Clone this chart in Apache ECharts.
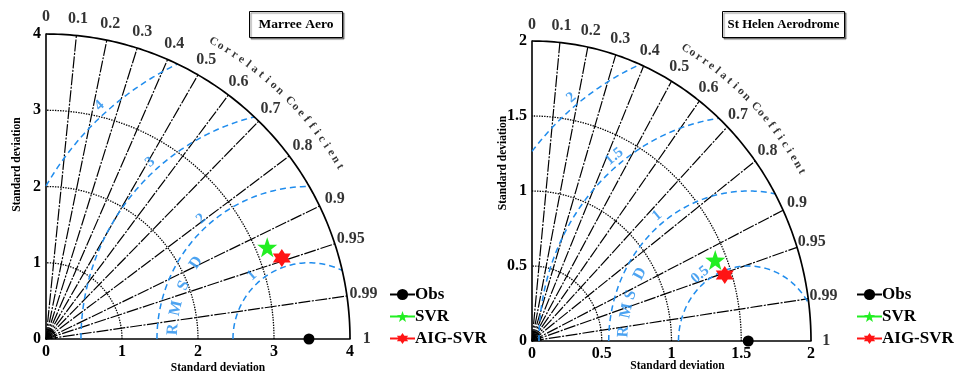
<!DOCTYPE html>
<html>
<head>
<meta charset="utf-8">
<script src="https://cdn.jsdelivr.net/npm/echarts@6/dist/echarts.min.js"></script>
<style>
  html, body { margin: 0; padding: 0; background: #fff; }
  #chart { width: 957px; height: 375px; }
</style>
</head>
<body>
<div id="chart"></div>
<script>
// Taylor diagrams for two stations: standard deviation vs. correlation
const stations = ['Marree Aero', 'St Helen Aerodrome'];
const models = ['Obs', 'SVR', 'AIG-SVR'];
const corrTicks = [0, 0.1, 0.2, 0.3, 0.4, 0.5, 0.6, 0.7, 0.8, 0.9, 0.95, 0.99, 1];
const stdTicksMarree = [0, 1, 2, 3, 4];
const stdTicksHelen = [0, 0.5, 1, 1.5, 2];
const rmsdTicksMarree = [1, 2, 3, 4];
const rmsdTicksHelen = [0.5, 1, 1.5, 2];
const obsStd = [3.46, 1.55];
const svrStd = [3.15, 1.42];
const svrCorr = [0.924, 0.925];
const aigStd = [3.28, 1.45];
const aigCorr = [0.946, 0.953];
const corrTitle = 'Correlation Coefficient';
const rmsdTitle = ['R', 'M', 'S', 'D'];

const FONT = '"Liberation Serif", "Times New Roman", serif';
const BLUE = '#1f8ced';
const STAR5 = 'path://M0,-10L2.35,-3.24L9.51,-3.09L3.8,1.24L5.88,8.09L0,4L-5.88,8.09L-3.8,1.24L-9.51,-3.09L-2.35,-3.24Z';
const STAR6 = 'path://M0,-10L2.89,-5L8.66,-5L5.77,0L8.66,5L2.89,5L0,10L-2.89,5L-8.66,5L-5.77,0L-8.66,-5L-2.89,-5Z';

// per-panel layout
const panels = [
  { grid: { left: 46, top: 34, width: 304, height: 305 }, stdTicks: stdTicksMarree, rmsd: rmsdTicksMarree,
    step: 1, legendLeft: 384, box: { x: 249, y: 11, w: 93, h: 26 }, titleSize: 13.5, xNameGap: 23,
    xNameShift: 40, yNameShift: 44, rmsdNumAngle: 132, rmsdWordAngles: [176, 167, 157, 146] },
  { grid: { left: 532, top: 41, width: 279, height: 300 }, stdTicks: stdTicksHelen, rmsd: rmsdTicksHelen,
    step: 0.5, legendLeft: 851, box: { x: 722, y: 11, w: 122, h: 26 }, titleSize: 12.8, xNameGap: 19,
    xNameShift: 12, yNameShift: 56, rmsdNumAngle: 128, rmsdWordAngles: [176, 167, 160, 150] }
];

const rad = d => d * Math.PI / 180;
const deg = r => r * 180 / Math.PI;

function arcPoints(cx, r, a0, a1, n) {
  const pts = [];
  for (let k = 0; k <= n; k++) {
    const a = rad(a0 + (a1 - a0) * k / n);
    pts.push([cx + r * Math.cos(a), r * Math.sin(a)]);
  }
  return pts;
}

// screen rotation of the clockwise tangent at angle phi (data space) on a panel
function tangentRot(p, phiDeg) {
  const R = p.stdTicks[p.stdTicks.length - 1];
  const sx = p.grid.width / R, sy = p.grid.height / R;
  const f = rad(phiDeg);
  return deg(Math.atan2(-sy * Math.cos(f), sx * Math.sin(f)));
}

const series = [];
const xAxes = [], yAxes = [], grids = [], legends = [], graphics = [];

panels.forEach((p, i) => {
  const R = p.stdTicks[p.stdTicks.length - 1];
  grids.push(Object.assign({ containLabel: false, outerBoundsMode: 'none' }, p.grid));

  const axisCommon = {
    gridIndex: i, type: 'value', min: 0, max: R, interval: p.step,
    axisLine: { show: true, lineStyle: { color: '#000', width: 1.6 } },
    axisTick: { show: false }, splitLine: { show: false },
    axisLabel: { color: '#000', fontFamily: FONT, fontWeight: 'bold', fontSize: 16, margin: 5 },
    name: 'Standard deviation', nameLocation: 'middle', nameMoveOverlap: false
  };
  const nameStyle = shift => ({ color: '#000', fontFamily: FONT, fontWeight: 'bold', fontSize: 11.5, padding: [0, 0, 0, shift] });
  xAxes.push(Object.assign({}, axisCommon, { nameGap: p.xNameGap, nameTextStyle: nameStyle(p.xNameShift) }));
  yAxes.push(Object.assign({}, axisCommon, { nameGap: 23, nameTextStyle: nameStyle(p.yNameShift) }));

  const base = { xAxisIndex: i, yAxisIndex: i, silent: true, animation: false, clip: false };
  const line = (data, style, z) => Object.assign({ type: 'line', data, symbol: 'none', lineStyle: style, z: z || 2 }, base);

  // standard deviation arcs
  p.stdTicks.slice(1).forEach(s => {
    const outer = s === R;
    series.push(line(arcPoints(0, s, 0, 90, 120),
      outer ? { color: '#000', width: 1.7, type: 'solid' } : { color: '#000', width: 1.3, type: [1.4, 1.2] }, outer ? 4 : 2));
  });
  // tiny arcs around the origin
  [0.02, 0.032].forEach(f => series.push(line(arcPoints(0, f * R, 0, 90, 30), { color: '#000', width: 1.3 }, 2)));

  // correlation rays
  corrTicks.filter(c => c > 0 && c < 1).forEach(c => {
    const s = Math.sqrt(1 - c * c);
    series.push(line([[0, 0], [R * c, R * s]], { color: '#000', width: 1.2, type: [12, 1.5, 2, 1.5] }, 2));
  });

  // centred RMS difference arcs about the observed point
  const cx = obsStd[i];
  p.rmsd.forEach(r => {
    const a0 = cx - r < 0 ? deg(Math.acos(-cx / r)) : 180;
    const xi = (R * R - r * r + cx * cx) / (2 * cx);
    const yi = Math.sqrt(Math.max(0, R * R - xi * xi));
    const a1 = deg(Math.atan2(yi, xi - cx));
    series.push(line(arcPoints(cx, r, a0, a1, 120), { color: BLUE, width: 1.5, type: [6, 4] }, 3));
  });

  // correlation tick labels outside the outer arc
  series.push(Object.assign({
    type: 'scatter', symbolSize: 1, itemStyle: { color: 'rgba(0,0,0,0)' }, z: 5,
    data: corrTicks.map(c => ({
      value: [1.055 * R * c, 1.055 * R * Math.sqrt(1 - c * c)],
      label: { show: true, position: 'inside', formatter: String(c), color: '#000', fontFamily: FONT, fontWeight: 'bold', fontSize: 16 }
    }))
  }, base));

  // curved "Correlation Coefficient" caption
  const capData = [];
  let th = 60.5;
  let prev = '';
  for (const ch of corrTitle) {
    if (prev) th -= (prev === ' ' ? 1.0 : 1.39);
    prev = ch;
    if (ch === ' ') continue;
    const r = 1.12 * R;
    capData.push({
      value: [r * Math.cos(rad(th)), r * Math.sin(rad(th))],
      label: { show: true, position: 'inside', formatter: ch, rotate: tangentRot(p, th),
        color: '#000', fontFamily: FONT, fontWeight: 'bold', fontSize: 11.5 }
    });
  }
  series.push(Object.assign({ type: 'scatter', symbolSize: 1, itemStyle: { color: 'rgba(0,0,0,0)' }, z: 5, data: capData }, base));

  // RMSD value labels (just outside each arc) and the RMSD caption
  const rmsdLabels = p.rmsd.map(r => {
    const f = rad(p.rmsdNumAngle);
    const rl = r + 0.03 * R;
    return {
      value: [cx + rl * Math.cos(f), rl * Math.sin(f)],
      label: { show: true, position: 'inside', formatter: String(r), rotate: tangentRot(p, p.rmsdNumAngle),
        color: BLUE, fontFamily: FONT, fontWeight: 'bold', fontSize: 15 }
    };
  });
  const wordR = 0.448 * R;
  rmsdTitle.forEach((ch, k) => {
    const a = p.rmsdWordAngles[k];
    rmsdLabels.push({
      value: [cx + wordR * Math.cos(rad(a)), wordR * Math.sin(rad(a))],
      label: { show: true, position: 'inside', formatter: ch, rotate: tangentRot(p, a),
        color: BLUE, fontFamily: FONT, fontWeight: 'bold', fontSize: 16 }
    });
  });
  series.push(Object.assign({ type: 'scatter', symbolSize: 1, itemStyle: { color: 'rgba(0,0,0,0)' }, z: 5, data: rmsdLabels }, base));

  // observed reference and model points
  const pt = (std, c) => [std * c, std * Math.sqrt(1 - c * c)];
  series.push(Object.assign({ type: 'line', name: 'Obs', data: [[obsStd[i], 0]], symbol: 'circle', symbolSize: 11,
    itemStyle: { color: '#000' }, lineStyle: { color: '#000', width: 1.6 }, z: 10 }, base));
  series.push(Object.assign({ type: 'line', name: 'SVR', data: [pt(svrStd[i], svrCorr[i])], symbol: STAR5, symbolSize: 20,
    itemStyle: { color: '#22ee22' }, lineStyle: { color: '#22ee22', width: 1.6 }, z: 10 }, base));
  series.push(Object.assign({ type: 'line', name: 'AIG-SVR', data: [pt(aigStd[i], aigCorr[i])], symbol: STAR6, symbolSize: 18,
    itemStyle: { color: '#ff1414' }, lineStyle: { color: '#ff1414', width: 1.6 }, z: 10 }, base));

  legends.push({
    data: models, left: p.legendLeft, top: 281, orient: 'vertical',
    itemWidth: 25, itemHeight: 14, itemGap: 5, selectedMode: false,
    textStyle: { color: '#000', fontFamily: FONT, fontWeight: 'bold', fontSize: 17, lineHeight: 17, padding: [0, 0, 0, -5] }
  });

  // station name box
  graphics.push({
    type: 'group', left: p.box.x, top: p.box.y,
    children: [
      { type: 'rect', shape: { x: 0, y: 0, width: p.box.w, height: p.box.h },
        style: { fill: '#fff', stroke: '#000', lineWidth: 1, shadowColor: 'rgba(0,0,0,0.45)', shadowOffsetX: 1.5, shadowOffsetY: 1.5, shadowBlur: 1 } },
      { type: 'text', x: p.box.w / 2, y: p.box.h / 2,
        style: { text: stations[i], align: 'center', verticalAlign: 'middle', fill: '#000', font: 'bold ' + p.titleSize + 'px ' + FONT } }
    ]
  });
});

const chart = echarts.init(document.getElementById('chart'), null, { renderer: 'canvas' });
chart.setOption({
  animation: false,
  backgroundColor: '#fff',
  grid: grids,
  xAxis: xAxes,
  yAxis: yAxes,
  legend: legends,
  graphic: graphics,
  series: series
});
</script>
</body>
</html>
